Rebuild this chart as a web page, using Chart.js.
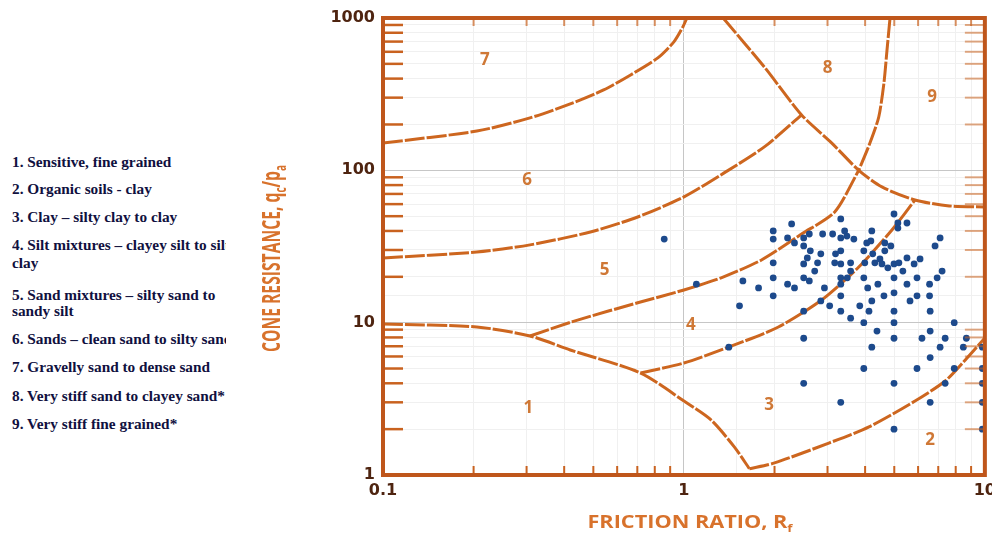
<!DOCTYPE html>
<html>
<head>
<meta charset="utf-8">
<script src="https://cdn.jsdelivr.net/npm/chart.js@4.4.0/dist/chart.umd.min.js"></script>
<style>
  body { margin: 0; background: #fff; width: 992px; height: 533px; overflow: hidden; position: relative; }
  #legend { position: absolute; left: 12px; top: 0; width: 214px; height: 533px; overflow: hidden;
    white-space: nowrap; font: bold 15.3px 'Liberation Serif', serif; color: #101040; }
  #legend div { position: absolute; left: 0; line-height: 17px; }
  #chart { position: absolute; left: 255px; top: 0; }
</style>
</head>
<body>
<div id="legend"></div>
<canvas id="chart" width="747" height="533"></canvas>
<script>
// legend lines (text + vertical position of each line)
const legendLines = [
  '1. Sensitive, fine grained',
  '2. Organic soils - clay',
  '3. Clay \u2013 silty clay to clay',
  '4. Silt mixtures \u2013 clayey silt to silt',
  'clay',
  '5. Sand mixtures \u2013 silty sand to',
  'sandy silt',
  '6. Sands \u2013 clean sand to silty sand',
  '7. Gravelly sand to dense sand',
  '8. Very stiff sand to clayey sand*',
  '9. Very stiff fine grained*'
];
const legendTops = [153, 180, 208, 236, 254, 286, 302, 330, 358, 387, 415];

// CPT data: friction ratio Rf (%) and normalised cone resistance qc/pa
const frictionRatio = [
  0.86, 1.10, 1.41, 1.57, 1.53, 1.77, 1.98, 1.98, 1.98, 1.98,
  1.98, 2.28, 2.21, 2.33, 2.21, 2.33, 2.50, 2.50, 2.61, 2.63,
  2.57, 2.50, 2.72, 2.50, 2.61, 2.50, 2.50, 2.50, 2.89, 2.85,
  2.78, 2.93, 2.85, 3.05, 3.12, 3.19, 3.17, 3.32, 3.42, 3.48,
  3.32, 3.67, 3.32, 3.32, 3.58, 3.58, 3.32, 3.49, 3.32, 3.32,
  3.32, 3.58, 3.84, 3.32, 4.21, 4.18, 4.05, 3.96, 4.24, 3.99,
  4.31, 3.96, 4.08, 4.41, 4.21, 4.12, 3.96, 4.38, 4.21, 3.96,
  4.48, 4.55, 4.76, 4.65, 4.87, 4.65, 4.62, 4.99, 5.14, 5.51,
  5.14, 4.99, 5.18, 4.99, 4.99, 4.99, 4.99, 4.99, 4.99, 4.99,
  5.34, 5.51, 5.82, 6.09, 5.51, 5.64, 5.95, 5.95, 5.95, 6.18,
  6.55, 6.55, 6.58, 6.58, 6.58, 6.58, 6.83, 7.10, 6.94, 7.21,
  7.10, 7.38, 7.38, 7.91, 7.91, 8.48, 8.68, 9.81, 9.81, 9.81,
  9.81, 9.81
];
const coneResistance = [
  35.4, 17.9, 6.9, 18.8, 12.9, 16.9, 40.0, 35.4, 24.7, 19.7,
  15.0, 44.5, 36.0, 33.4, 17.9, 16.9, 36.0, 31.9, 38.2, 29.6,
  26.6, 24.3, 21.8, 19.7, 18.8, 11.9, 7.9, 4.0, 38.2, 28.3,
  24.7, 16.9, 13.9, 12.9, 38.2, 28.3, 24.7, 48.0, 40.0, 37.0,
  36.0, 35.4, 29.6, 24.3, 24.7, 21.8, 19.7, 19.7, 17.9, 15.0,
  11.9, 10.7, 12.9, 3.0, 40.0, 34.4, 33.4, 29.6, 28.3, 24.7,
  24.7, 19.7, 16.9, 17.9, 13.9, 11.9, 10.0, 8.8, 6.9, 5.0,
  26.2, 24.3, 22.9, 33.4, 31.9, 29.6, 15.0, 51.7, 45.1, 45.1,
  41.8, 24.3, 24.7, 19.7, 15.7, 11.9, 10.0, 7.9, 4.0, 2.0,
  21.8, 26.6, 24.3, 26.2, 17.9, 13.9, 19.7, 15.0, 5.0, 7.9,
  17.9, 15.0, 11.9, 8.8, 5.9, 3.0, 31.9, 36.0, 19.7, 21.8,
  6.9, 7.9, 4.0, 10.0, 5.0, 6.9, 7.9, 6.9, 5.0, 4.0,
  3.0, 2.0
];

// zone boundaries (Rf, qc/pa)
const b76Rf = [0.1, 0.205, 0.308, 0.419, 0.541, 0.665, 0.819, 0.926, 0.992, 1.023];
const b76Q  = [151, 181, 221, 273, 337, 423, 547, 697, 874, 1000];
const b65Rf = [0.1, 0.205, 0.308, 0.489, 0.702, 1.0, 1.36, 1.85, 2.46];
const b65Q  = [26.6, 29.1, 32.4, 39.4, 49.4, 66.9, 96.2, 142.5, 231];
const b8Rf  = [1.35, 1.85, 2.46, 3.10, 3.81, 4.55, 5.86, 7.61, 10];
const b8Q   = [1000, 477, 231, 151, 100, 77.8, 63.9, 58.4, 57.5];
const b89Rf = [4.84, 4.73, 4.62, 4.44, 4.15, 3.81];
const b89Q  = [1000, 617, 375, 224, 151, 100];
const b54Rf = [0.308, 0.443, 0.702, 1.0, 1.33, 1.81, 2.46, 3.17, 3.81];
const b54Q  = [8.18, 10.4, 13.5, 16.4, 19.7, 25.8, 38.2, 53.3, 100];
const b1Rf  = [0.1, 0.205, 0.308, 0.419, 0.718, 1.0, 1.23, 1.47, 1.65];
const b1Q   = [9.8, 9.37, 8.18, 6.62, 4.67, 3.06, 2.30, 1.53, 1.1];
const b43Rf = [0.718, 1.0, 1.413, 2.06, 2.87, 3.81, 4.91, 5.86];
const b43Q  = [4.67, 5.44, 6.93, 9.37, 14.1, 23.2, 40.6, 63.9];
const b32Rf = [1.65, 2.0, 3.03, 4.12, 5.86, 7.38, 8.61, 10];
const b32Q  = [1.1, 1.20, 1.62, 2.07, 3.06, 4.14, 5.69, 7.93];

// zone numbers
const zoneText = ['1', '2', '3', '4', '5', '6', '7', '8', '9'];
const zoneRf   = [0.304, 6.58, 1.92, 1.055, 0.545, 0.301, 0.218, 3.0, 6.68];
const zoneQ    = [2.75, 1.70, 2.88, 9.66, 22.2, 86.5, 531, 470, 303];

const xTickLabels = [0.1, 1, 10];
const yTickLabels = [1, 10, 100, 1000];

// legend
const legendBox = document.getElementById('legend');
legendLines.forEach((t, i) => {
  const d = document.createElement('div');
  d.textContent = t;
  d.style.top = legendTops[i] + 'px';
  legendBox.appendChild(d);
});

function isMajor(v) {
  const l = Math.log10(v);
  return Math.abs(l - Math.round(l)) < 1e-6;
}
function hasLabel(list, v) {
  return list.some(t => Math.abs(t - v) / t < 1e-6);
}
function toPoints(rf, q) {
  return rf.map((r, i) => ({ x: r, y: q[i] }));
}

const curves = [[b76Rf, b76Q], [b65Rf, b65Q], [b8Rf, b8Q], [b89Rf, b89Q],
  [b54Rf, b54Q], [b1Rf, b1Q], [b43Rf, b43Q], [b32Rf, b32Q]];

const minorMult = [2, 3, 4, 5, 6, 7, 8, 9];
function minorValues(decades) {
  const out = [];
  decades.forEach(d => minorMult.forEach(m => out.push(d * m)));
  return out;
}

function drawRichTitle(ctx, parts, cx, cy, angle, size, width) {
  const mainFont = 'bold ' + size + 'px "Open Sans"';
  const subFont = 'bold ' + Math.round(size * 0.62) + 'px "Open Sans"';
  let total = 0;
  parts.forEach(p => {
    ctx.font = p.sub ? subFont : mainFont;
    p.w = ctx.measureText(p.t).width;
    total += p.w;
  });
  ctx.save();
  ctx.translate(cx, cy);
  ctx.rotate(angle);
  ctx.scale(width / total, 1);
  ctx.fillStyle = '#d8722c';
  ctx.textBaseline = 'alphabetic';
  ctx.textAlign = 'left';
  let xx = -total / 2;
  parts.forEach(p => {
    ctx.font = p.sub ? subFont : mainFont;
    ctx.fillText(p.t, xx, p.sub ? size * 0.58 : size * 0.36);
    xx += p.w;
  });
  ctx.restore();
}

// tick marks, frame, zone numbers and axis titles
const decor = {
  id: 'decor',
  afterDatasetsDraw(chart) {
    const { ctx, chartArea: a, scales: { x, y } } = chart;
    ctx.save();
    // zone numbers
    ctx.font = 'bold 17px "Open Sans"';
    ctx.fillStyle = '#cf7836';
    ctx.textAlign = 'center';
    ctx.textBaseline = 'middle';
    zoneText.forEach((t, i) => {
      ctx.fillText(t, x.getPixelForValue(zoneRf[i]), y.getPixelForValue(zoneQ[i]));
    });

    ctx.lineCap = 'butt';
    // left ticks
    ctx.strokeStyle = '#c9621f';
    ctx.lineWidth = 2.5;
    minorValues([1, 10, 100]).forEach(v => {
      const py = y.getPixelForValue(v);
      ctx.beginPath(); ctx.moveTo(a.left, py); ctx.lineTo(a.left + 20, py); ctx.stroke();
    });
    // right ticks
    ctx.strokeStyle = 'rgba(201,98,31,0.55)';
    ctx.lineWidth = 2;
    minorValues([1, 10, 100]).forEach(v => {
      const py = y.getPixelForValue(v);
      ctx.beginPath(); ctx.moveTo(a.right - 20, py); ctx.lineTo(a.right, py); ctx.stroke();
    });
    // bottom and top ticks
    minorValues([0.1, 1]).forEach(v => {
      const px = x.getPixelForValue(v);
      ctx.strokeStyle = '#c9621f';
      ctx.lineWidth = 2;
      ctx.beginPath(); ctx.moveTo(px, a.bottom); ctx.lineTo(px, a.bottom - 9); ctx.stroke();
      ctx.strokeStyle = 'rgba(201,98,31,0.7)';
      ctx.beginPath(); ctx.moveTo(px, a.top); ctx.lineTo(px, a.top + 8); ctx.stroke();
    });
    // frame
    ctx.strokeStyle = '#bf561b';
    ctx.lineWidth = 4;
    ctx.strokeRect(a.left, a.top, a.right - a.left, a.bottom - a.top);
    ctx.restore();

    // axis titles
    drawRichTitle(ctx, [{ t: 'FRICTION RATIO, R' }, { t: 'f', sub: true }],
      (a.left + a.right) / 2 + 6, chart.height - 11, 0, 18, 205);
    drawRichTitle(ctx, [{ t: 'CONE RESISTANCE, q' }, { t: 'c', sub: true }, { t: '/p' }, { t: 'a', sub: true }],
      16, (a.top + a.bottom) / 2 + 12, -Math.PI / 2, 25, 187);
  }
};

const tickFont = { family: 'DejaVu Sans', weight: 'bold', size: 16 };

new Chart(document.getElementById('chart'), {
  type: 'scatter',
  data: {
    datasets: [{
      data: toPoints(frictionRatio, coneResistance),
      pointRadius: 3.4,
      pointBackgroundColor: '#1d4a8c',
      pointBorderWidth: 0,
      showLine: false
    }].concat(curves.map(c => ({
      data: toPoints(c[0], c[1]),
      showLine: true,
      pointRadius: 0,
      borderColor: '#cd661f',
      borderWidth: 3,
      borderDash: [20, 2],
      tension: 0.25,
      fill: false
    })))
  },
  options: {
    responsive: false,
    animation: false,
    layout: { padding: { top: 18, right: 0, left: 0, bottom: 0 } },
    plugins: { legend: { display: false }, tooltip: { enabled: false } },
    scales: {
      x: {
        type: 'logarithmic',
        min: 0.1,
        max: 10,
        afterFit: s => { s.height = 58; },
        border: { display: false },
        grid: {
          drawTicks: false,
          color: c => isMajor(c.tick.value) ? '#c6c6c6' : '#f0f0f0'
        },
        ticks: {
          autoSkip: false,
          maxRotation: 0,
          padding: 6,
          color: '#4e2410',
          font: tickFont,
          callback: v => hasLabel(xTickLabels, v) ? String(+v.toPrecision(3)) : ''
        }
      },
      y: {
        type: 'logarithmic',
        min: 1,
        max: 1000,
        afterFit: s => { s.width = 128; },
        border: { display: false },
        grid: {
          drawTicks: false,
          color: c => isMajor(c.tick.value) ? '#c6c6c6' : '#f0f0f0'
        },
        ticks: {
          autoSkip: false,
          padding: 8,
          color: '#4e2410',
          font: tickFont,
          callback: v => hasLabel(yTickLabels, v) ? String(+v.toPrecision(4)) : ''
        }
      }
    }
  },
  plugins: [decor]
});
</script>
</body>
</html>
